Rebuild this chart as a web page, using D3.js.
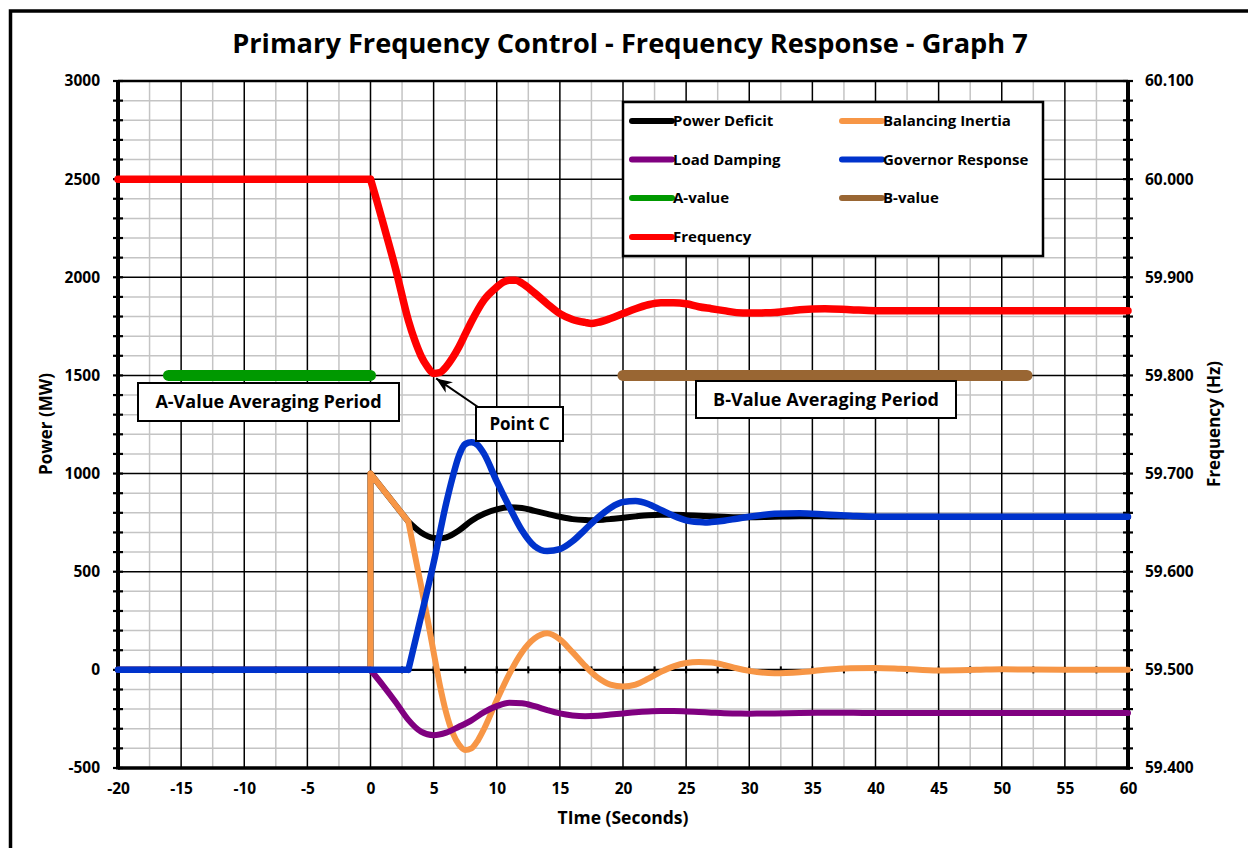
<!DOCTYPE html>
<html>
<head>
<meta charset="utf-8">
<script src="https://cdn.jsdelivr.net/npm/d3@7"></script>
<style>
  body { margin: 0; background: #fff; }
  text { font-family: "Open Sans", Lato, sans-serif; font-weight: 700; fill: #000; }
</style>
</head>
<body>
<svg id="chart"></svg>
<script>
// ---- data ----
const freqTime = [-20, 0, 0.5, 1, 2, 3, 3.5, 4, 4.5, 5, 5.5, 6, 6.5, 7, 7.5, 8, 9, 10, 10.5, 11, 11.5, 12, 13, 14, 15, 16, 17, 17.5, 18, 19, 20, 21, 22, 23, 24, 25, 26, 27, 28, 29, 30, 31, 32, 34, 36, 38, 40, 45, 50, 55, 60];
const frequency = [60.0, 60.0, 59.978, 59.955, 59.908, 59.856, 59.836, 59.820, 59.809, 59.802, 59.803, 59.809, 59.818, 59.829, 59.842, 59.855, 59.877, 59.890, 59.895, 59.897, 59.897, 59.894, 59.884, 59.873, 59.863, 59.857, 59.854, 59.853, 59.854, 59.858, 59.863, 59.868, 59.872, 59.874, 59.874, 59.873, 59.870, 59.868, 59.866, 59.864, 59.8635, 59.8637, 59.864, 59.867, 59.868, 59.867, 59.866, 59.866, 59.866, 59.866, 59.866];
const freqCorners = [0];

const deficitTime = [-20, 0, 0, 3, 4, 5, 5.5, 6, 7, 8, 9, 10, 11, 12, 13, 14, 15, 16, 17, 17.5, 18, 19, 20, 21, 22, 23, 24, 25, 26, 27, 28, 29, 30, 32, 34, 36, 38, 40, 45, 50, 55, 60];
const powerDeficit = [0, 0, 1000, 755, 700, 672, 670, 675, 710, 760, 795, 818, 828, 825, 810, 795, 780, 768, 763, 762, 763, 768, 775, 782, 788, 790, 790, 788, 785, 782, 780, 778, 778, 780, 782, 782, 781, 780, 780, 780, 780, 780];
const deficitCorners = [0, 3];

const inertiaTime = [-20, 0, 0, 1, 2, 3, 3.5, 4, 4.5, 5, 5.5, 6, 6.5, 7, 7.5, 8, 8.5, 9, 10, 11, 12, 13, 14, 15, 16, 17, 18, 19, 20, 21, 22, 23, 24, 25, 26, 27, 28, 29, 30, 32, 34, 36, 38, 40, 42, 45, 48, 50, 55, 60];
const balancingInertia = [0, 0, 1000, 918, 837, 755, 590, 430, 265, 90, -80, -220, -320, -380, -408, -400, -360, -300, -155, -20, 90, 160, 186, 155, 90, 20, -40, -75, -85, -75, -45, -10, 18, 35, 40, 37, 25, 8, -5, -17, -12, 0, 8, 10, 6, -3, 0, 3, 0, 0];
const inertiaCorners = [0, 3];

const dampingTime = [-20, 0, 1, 2, 3, 4, 5, 6, 7, 8, 9, 10, 11, 12, 13, 14, 15, 16, 17, 18, 19, 20, 21, 22, 23, 24, 25, 26, 27, 28, 29, 30, 32, 34, 36, 38, 40, 45, 50, 55, 60];
const loadDamping = [0, 0, -80, -165, -255, -315, -333, -320, -290, -257, -215, -185, -168, -170, -185, -205, -222, -232, -236, -234, -228, -222, -216, -212, -210, -210, -212, -215, -218, -221, -222, -223, -222, -220, -219, -219, -220, -220, -220, -220, -220];
const dampingCorners = [0];

const governorTime = [-20, 3, 4, 5, 6, 6.5, 7, 7.5, 8, 8.5, 9, 10, 11, 12, 13, 14, 15, 16, 17, 18, 19, 20, 21, 22, 23, 24, 25, 26, 26.5, 27, 28, 29, 30, 32, 34, 36, 38, 40, 45, 50, 55, 60];
const governorResponse = [0, 0, 270, 545, 850, 980, 1090, 1150, 1160, 1145, 1100, 960, 830, 710, 630, 605, 615, 655, 715, 775, 825, 855, 860, 845, 815, 785, 762, 753, 751, 753, 760, 770, 780, 795, 798, 792, 785, 780, 780, 780, 780, 780];
const governorCorners = [3];

const aValueTime = [-16, 0];
const aValue = [1500, 1500];
const bValueTime = [20, 52];
const bValue = [1500, 1500];

const timeTicks = d3.range(-20, 61, 5);
const powerTicks = d3.range(-500, 3001, 500);
const freqTicks = [59.4, 59.5, 59.6, 59.7, 59.8, 59.9, 60.0, 60.1];

// ---- layout ----
const width = 1248;
const height = 848;
const plot = { left: 118, right: 1128, top: 81, bottom: 768 };

const svg = d3.select("#chart").attr("width", width).attr("height", height);

svg.append("rect")
  .attr("x", 10.5).attr("y", 11)
  .attr("width", 1260).attr("height", 860)
  .attr("fill", "#fff").attr("stroke", "#000").attr("stroke-width", 3.5);

const x = d3.scaleLinear().domain([-20, 60]).range([plot.left, plot.right]);
const yPower = d3.scaleLinear().domain([-500, 3000]).range([plot.bottom, plot.top]);
const yFreq = d3.scaleLinear().domain([59.4, 60.1]).range([plot.bottom, plot.top]);

// grid
const grid = svg.append("g");
const vMinor = d3.range(-17.5, 60, 2.5).filter((t) => t % 5 !== 0);
const vMajor = d3.range(-15, 60, 5);
const hMinor = d3.range(-400, 3000, 100).filter((p) => p % 500 !== 0);
const hMajor = d3.range(0, 3000, 500);

grid.selectAll(".vminor").data(vMinor).join("line")
  .attr("x1", (d) => x(d)).attr("x2", (d) => x(d))
  .attr("y1", plot.top).attr("y2", plot.bottom)
  .attr("stroke", "#c4c4c4").attr("stroke-width", 1.5);
grid.selectAll(".hminor").data(hMinor).join("line")
  .attr("x1", plot.left).attr("x2", plot.right)
  .attr("y1", (d) => yPower(d)).attr("y2", (d) => yPower(d))
  .attr("stroke", "#c4c4c4").attr("stroke-width", 1.5);
grid.selectAll(".vmajor").data(vMajor).join("line")
  .attr("x1", (d) => x(d)).attr("x2", (d) => x(d))
  .attr("y1", plot.top).attr("y2", plot.bottom)
  .attr("stroke", "#000").attr("stroke-width", 1.5);
grid.selectAll(".hmajor").data(hMajor).join("line")
  .attr("x1", plot.left).attr("x2", plot.right)
  .attr("y1", (d) => yPower(d)).attr("y2", (d) => yPower(d))
  .attr("stroke", "#000").attr("stroke-width", 1.5);

// zero line with little ticks
svg.append("line")
  .attr("x1", plot.left).attr("x2", plot.right)
  .attr("y1", yPower(0)).attr("y2", yPower(0))
  .attr("stroke", "#000").attr("stroke-width", 2.2);
svg.append("g").selectAll("line").data(d3.range(-17.5, 60, 2.5)).join("line")
  .attr("x1", (d) => x(d)).attr("x2", (d) => x(d))
  .attr("y1", yPower(0) - 3.5).attr("y2", yPower(0) + 3.5)
  .attr("stroke", "#000").attr("stroke-width", 2);

// frame lines
svg.append("line").attr("x1", plot.left).attr("x2", plot.right)
  .attr("y1", plot.top).attr("y2", plot.top).attr("stroke", "#000").attr("stroke-width", 2.5);
svg.append("line").attr("x1", plot.left).attr("x2", plot.right + 2)
  .attr("y1", plot.bottom).attr("y2", plot.bottom).attr("stroke", "#000").attr("stroke-width", 3.5);
[plot.left, plot.right].forEach((px) => {
  svg.append("line").attr("x1", px).attr("x2", px)
    .attr("y1", plot.top - 1).attr("y2", plot.bottom + 1.5)
    .attr("stroke", "#000").attr("stroke-width", 4);
  svg.append("g").selectAll("line").data(d3.range(-500, 3001, 100)).join("line")
    .attr("x1", px - 5).attr("x2", px + 5)
    .attr("y1", (d) => yPower(d)).attr("y2", (d) => yPower(d))
    .attr("stroke", "#000").attr("stroke-width", 2.2);
});

// axes (labels only)
const styleAxis = (g) => {
  g.select(".domain").remove();
  g.selectAll("line").remove();
  g.selectAll("text").attr("font-size", "15.5px")
    .attr("font-family", "'Open Sans', sans-serif").attr("font-weight", 700).attr("fill", "#000");
};
svg.append("g").attr("transform", `translate(${plot.left},0)`)
  .call(d3.axisLeft(yPower).tickValues(powerTicks).tickSize(0).tickPadding(18).tickFormat((d) => String(d)))
  .call(styleAxis);
svg.append("g").attr("transform", `translate(${plot.right},0)`)
  .call(d3.axisRight(yFreq).tickValues(freqTicks).tickSize(0).tickPadding(17).tickFormat((d) => d.toFixed(3)))
  .call(styleAxis);
svg.append("g").attr("transform", `translate(0,${plot.bottom})`)
  .call(d3.axisBottom(x).tickValues(timeTicks).tickSize(0).tickPadding(15).tickFormat((d) => String(d)))
  .call(styleAxis);

// titles
svg.append("text").attr("x", 630).attr("y", 53).attr("text-anchor", "middle")
  .attr("font-size", "27.2px").text("Primary Frequency Control - Frequency Response - Graph 7");
svg.append("text").attr("x", 623).attr("y", 824).attr("text-anchor", "middle")
  .attr("font-size", "17.5px").text("TIme (Seconds)");
svg.append("text").attr("transform", "translate(52,424) rotate(-90)").attr("text-anchor", "middle")
  .attr("font-size", "17px").text("Power (MW)");
svg.append("text").attr("transform", "translate(1220,424) rotate(-90)").attr("text-anchor", "middle")
  .attr("font-size", "17px").text("Frequency (Hz)");

// ---- series ----
const splitAtCorners = (ts, vs, corners) => {
  const out = [];
  let cur = [];
  ts.forEach((t, i) => {
    cur.push([t, vs[i]]);
    if (corners.includes(t) && cur.length > 1) {
      out.push(cur);
      cur = [[t, vs[i]]];
    }
  });
  if (cur.length > 1) out.push(cur);
  return out;
};

const drawSeries = (ts, vs, corners, yScale, color, w) => {
  const line = d3.line()
    .curve(d3.curveMonotoneX)
    .x((d) => x(d[0]))
    .y((d) => yScale(d[1]));
  const d = splitAtCorners(ts, vs, corners).map((p) => line(p)).join("");
  svg.append("path")
    .attr("d", d)
    .attr("fill", "none")
    .attr("stroke", color)
    .attr("stroke-width", w)
    .attr("stroke-linecap", "round")
    .attr("stroke-linejoin", "round");
};

const colors = {
  deficit: "#000000",
  inertia: "#f79646",
  damping: "#800080",
  governor: "#0033cc",
  a: "#009900",
  b: "#996633",
  freq: "#ff0000"
};

drawSeries(deficitTime, powerDeficit, deficitCorners, yPower, colors.deficit, 6);
drawSeries(inertiaTime, balancingInertia, inertiaCorners, yPower, colors.inertia, 6);
drawSeries(dampingTime, loadDamping, dampingCorners, yPower, colors.damping, 6);
drawSeries(governorTime, governorResponse, governorCorners, yPower, colors.governor, 6.5);
drawSeries(aValueTime, aValue, [], yPower, colors.a, 11);
drawSeries(bValueTime, bValue, [], yPower, colors.b, 11);
drawSeries(freqTime, frequency, freqCorners, yFreq, colors.freq, 7.5);

// ---- annotations ----
const labelBox = (x0, y0, x1, y1, label, size) => {
  svg.append("rect").attr("x", x0).attr("y", y0)
    .attr("width", x1 - x0).attr("height", y1 - y0)
    .attr("fill", "#fff").attr("stroke", "#000").attr("stroke-width", 2);
  svg.append("text").attr("x", (x0 + x1) / 2).attr("y", (y0 + y1) / 2)
    .attr("dy", "0.36em").attr("text-anchor", "middle")
    .attr("font-size", size).text(label);
};
labelBox(138, 383, 399, 421, "A-Value Averaging Period", "18px");
labelBox(696, 381, 956, 418, "B-Value Averaging Period", "18px");

svg.append("defs").append("marker")
  .attr("id", "arrow").attr("viewBox", "0 0 10 10")
  .attr("refX", 10).attr("refY", 5)
  .attr("markerWidth", 8).attr("markerHeight", 8)
  .attr("orient", "auto")
  .append("path").attr("d", "M0,1 L10,5 L0,9 L3,5 Z").attr("fill", "#000");
svg.append("line")
  .attr("x1", 478).attr("y1", 407)
  .attr("x2", x(5.2)).attr("y2", yFreq(59.8) + 3)
  .attr("stroke", "#000").attr("stroke-width", 2)
  .attr("marker-end", "url(#arrow)");
labelBox(476, 407, 563, 441, "Point C", "17px");

// ---- legend ----
const legendItems = [
  { name: "Power Deficit", color: colors.deficit, col: 0, row: 0 },
  { name: "Balancing Inertia", color: colors.inertia, col: 1, row: 0 },
  { name: "Load Damping", color: colors.damping, col: 0, row: 1 },
  { name: "Governor Response", color: colors.governor, col: 1, row: 1 },
  { name: "A-value", color: colors.a, col: 0, row: 2 },
  { name: "B-value", color: colors.b, col: 1, row: 2 },
  { name: "Frequency", color: colors.freq, col: 0, row: 3 }
];
const legend = svg.append("g");
legend.append("rect").attr("x", 623).attr("y", 102).attr("width", 420).attr("height", 154)
  .attr("fill", "#fff").attr("stroke", "#000").attr("stroke-width", 2.5);
const rowY = [121, 159.5, 198, 237];
const colX = [632, 842];
legendItems.forEach((it) => {
  const lx = colX[it.col];
  const ly = rowY[it.row];
  legend.append("line").attr("x1", lx).attr("x2", lx + 40).attr("y1", ly).attr("y2", ly)
    .attr("stroke", it.color).attr("stroke-width", 6).attr("stroke-linecap", "round");
  legend.append("text").attr("x", lx + 41).attr("y", ly).attr("dy", "0.36em")
    .attr("font-size", "15px").text(it.name);
});
</script>
</body>
</html>
